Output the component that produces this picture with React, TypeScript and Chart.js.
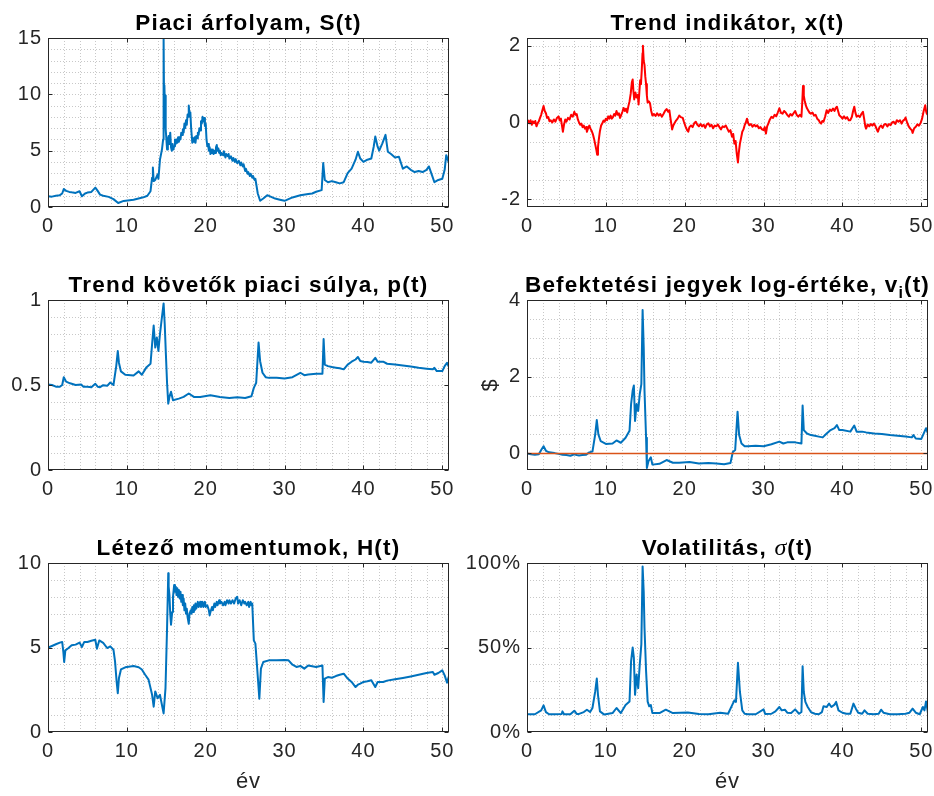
import React, { useEffect, useRef } from 'react';
import { Chart, registerables } from 'chart.js';

Chart.register(...registerables);

// ---------- shared axis data ----------
const X_TICKS = [0, 10, 20, 30, 40, 50];
const X_MAX = 50.85;

// ---------- S(t): market price ----------
const S_T = [0, 0.5, 1, 1.5, 1.8, 2, 2.3, 2.7, 3, 3.5, 4, 4.3, 4.7, 5, 5.5, 6, 6.3, 6.6, 7, 7.7, 8.3, 8.9, 9.6, 10.85, 12.1, 12.6, 13, 13.2, 13.3, 13.4, 13.6, 13.9, 14, 14.2, 14.45, 14.6, 14.66, 14.72, 14.76, 14.85, 14.9, 14.95,
  15.1, 15.2, 15.3, 15.4, 15.5, 15.6, 15.7, 15.8, 15.9, 16, 16.1, 16.2, 16.3, 16.4, 16.5, 16.6, 16.7, 16.8, 16.9, 17, 17.1, 17.2, 17.3, 17.4, 17.5, 17.6, 17.7, 17.8, 17.85, 17.95, 18.05, 18.15, 18.3, 18.4, 18.5, 18.6, 18.7, 18.8, 18.9, 19, 19.1, 19.2, 19.3, 19.4, 19.5, 19.6, 19.7, 19.8, 19.9, 20, 20.1, 20.2, 20.3, 20.4, 20.5, 20.6, 20.7, 20.8, 20.9, 21, 21.1, 21.2, 21.3, 21.4, 21.5, 21.6, 21.7, 21.8, 21.9, 22, 22.2, 22.3, 22.5, 22.6, 22.8, 22.9, 23, 23.2, 23.4, 23.5, 23.7, 23.8, 24, 24.2, 24.4, 24.5, 24.7, 24.8, 25, 25.1, 25.3, 25.4, 25.6, 25.7, 25.9, 26, 26.2, 26.3,
  26.6, 26.9, 27.3, 27.8, 28.3, 28.8, 29.4, 30, 30.5, 31, 32, 33, 33.5, 34, 34.7, 34.9, 35.1, 35.5, 36, 36.5, 37, 37.5, 38, 38.5, 39, 39.3, 39.6, 40, 40.5, 41, 41.3, 41.5, 41.8, 42, 42.4, 42.8, 43.1, 43.5, 44, 44.5, 45, 45.5, 46, 46.5, 47, 47.5, 48, 48.3, 48.7, 49, 49.5, 50, 50.3, 50.5, 50.7, 50.85];
const S_VALUES = [0.95, 0.92, 1.0, 1.05, 1.2, 1.6, 1.43, 1.34, 1.3, 1.25, 1.4, 0.95, 1.2, 1.28, 1.34, 1.72, 1.43, 1.1, 1.0, 0.9, 0.7, 0.36, 0.54, 0.65, 0.86, 1.0, 1.4, 2.6, 3.5, 2.3, 2.4, 2.9, 2.5, 4.2, 5.1, 6.0, 14.9, 9.0, 10.8, 8.0, 9.9, 6.9,
  5.1, 6.0, 6.3, 5.6, 6.6, 5.3, 5.0, 5.6, 5.1, 5.4, 6.0, 5.6, 6.0, 5.7, 6.2, 5.8, 6.2, 6.0, 6.6, 6.4, 6.9, 6.6, 7.4, 7.0, 7.7, 7.3, 8.2, 8.0, 9.0, 8.1, 8.4, 7.0, 5.7, 6.1, 5.8, 6.2, 5.7, 6.3, 6.1, 6.6, 6.4, 7.0, 6.8, 7.6, 7.4, 8.0, 7.6, 7.9, 7.2, 7.4, 6.0, 5.4, 5.6, 5.0, 5.3, 4.7, 5.1, 4.8, 5.1, 4.7, 5.0, 4.8, 5.3, 5.5, 5.0, 5.2, 4.8, 5.0, 4.6, 4.8, 4.6, 4.95, 4.4, 4.7, 4.5, 4.7, 4.3, 4.5, 4.1, 4.35, 4.0, 4.25, 3.9, 4.1, 3.7, 3.95, 3.6, 3.8, 3.2, 3.4, 2.95, 3.1, 2.75, 2.95, 2.6, 2.75, 2.4, 2.5,
  1.2, 0.55, 0.75, 1.05, 0.9, 0.75, 0.65, 0.55, 0.7, 0.85, 1.05, 1.15, 1.2, 1.35, 1.5, 3.9, 2.4, 2.2, 2.3, 2.2, 2.1, 2.2, 3.0, 3.4, 4.2, 4.9, 4.3, 4.0, 4.2, 4.3, 5.35, 6.25, 5.35, 5.0, 5.65, 6.4, 4.9, 4.7, 4.4, 4.46, 3.4, 3.6, 3.3, 3.1, 3.2, 3.1, 3.3, 3.6, 2.8, 2.2, 2.4, 2.5, 3.3, 4.6, 4.2, 3.9];
const S_TICKS = [0, 5, 10, 15];

// ---------- x(t): trend indicator ----------
const X_T = [0, 0.15, 0.3, 0.45, 0.6, 0.75, 0.9, 1.05, 1.2, 1.35, 1.5, 1.65, 1.8, 1.95, 2.1, 2.25, 2.4, 2.55, 2.7, 2.85, 3, 3.2, 3.4, 3.6, 3.8, 4, 4.15, 4.3, 4.45, 4.55, 4.7, 4.85, 5, 5.2, 5.4, 5.6, 5.8, 6, 6.15, 6.3, 6.45, 6.6, 6.75, 6.9, 7.05, 7.2, 7.35, 7.5, 7.6, 7.75, 7.9, 8.05, 8.2, 8.35, 8.5, 8.65, 8.8, 8.9, 9, 9.1, 9.25, 9.4, 9.55, 9.7, 9.85, 10, 10.15, 10.3, 10.45, 10.6, 10.75, 10.9, 11.05, 11.2, 11.35, 11.5, 11.65, 11.8, 11.95, 12.1, 12.25, 12.4, 12.55, 12.7, 12.85, 13, 13.15, 13.3, 13.4, 13.5, 13.6, 13.75, 13.9, 14.05, 14.15, 14.25, 14.35, 14.45, 14.55, 14.65, 14.7, 14.8, 14.9, 15, 15.1, 15.2, 15.3, 15.45, 15.6, 15.75, 15.9, 16.1, 16.3, 16.5, 16.7, 16.9, 17.1, 17.3, 17.5, 17.7, 17.9, 18.05, 18.2, 18.4, 18.55, 18.7, 18.9, 19.1, 19.3, 19.5, 19.75, 19.9, 20.1, 20.3, 20.45, 20.6, 20.8, 21, 21.2, 21.4, 21.6, 21.8, 22, 22.2, 22.4, 22.6, 22.8, 23, 23.2, 23.4, 23.6, 23.8, 24, 24.2, 24.4, 24.6, 24.8, 25, 25.2, 25.4, 25.6, 25.8, 26, 26.15, 26.3, 26.45, 26.6, 26.75, 26.85, 27, 27.15, 27.3, 27.45, 27.6, 27.75, 27.9, 28.05, 28.2, 28.4, 28.6, 28.8, 29, 29.2, 29.4, 29.6, 29.8, 30, 30.15, 30.3, 30.45, 30.6, 30.8, 31, 31.2, 31.4, 31.6, 31.8, 32, 32.2, 32.4, 32.6, 32.8, 33, 33.2, 33.4, 33.6, 33.8, 34, 34.2, 34.4, 34.6, 34.8, 34.9, 35, 35.1, 35.2, 35.35, 35.5, 35.7, 35.85, 36, 36.2, 36.4, 36.6, 36.8, 37, 37.15, 37.3, 37.45, 37.6, 37.8, 38, 38.2, 38.4, 38.6, 38.8, 39, 39.15, 39.3, 39.45, 39.6, 39.8, 40, 40.2, 40.4, 40.6, 40.8, 41, 41.2, 41.35, 41.5, 41.65, 41.8, 42, 42.2, 42.4, 42.6, 42.75, 42.9, 43, 43.2, 43.4, 43.6, 43.8, 44, 44.2, 44.4, 44.5, 44.7, 44.9, 45.1, 45.3, 45.5, 45.7, 45.9, 46.1, 46.3, 46.5, 46.7, 46.9, 47.1, 47.3, 47.5, 47.7, 47.9, 48, 48.2, 48.4, 48.6, 48.8, 48.9, 49.1, 49.3, 49.5, 49.7, 49.9, 50.1, 50.3, 50.5, 50.6, 50.7, 50.85];
const X_VALUES = [0, 0.05, -0.02, 0.06, -0.06, 0.03, -0.02, 0.04, -0.1, -0.02, 0.03, 0.12, 0.2, 0.32, 0.43, 0.3, 0.24, 0.12, 0.14, 0.03, 0.06, 0, 0.08, 0.02, 0.12, 0.16, 0.05, 0.1, -0.1, -0.24, -0.05, 0.08, 0.02, 0.12, 0.08, 0.2, 0.15, 0.28, 0.2, 0.22, 0.08, 0, -0.06, -0.03, -0.12, -0.08, -0.16, -0.12, -0.24, -0.15, -0.08, -0.16, -0.22, -0.3, -0.42, -0.57, -0.72, -0.84, -0.65, -0.45, -0.22, -0.08, -0.02, 0.05, 0.02, 0.1, 0.06, 0.16, 0.1, 0.18, 0.1, 0.14, 0.22, 0.18, 0.3, 0.2, 0.24, 0.12, 0.2, 0.28, 0.38, 0.3, 0.36, 0.26, 0.42, 0.55, 0.75, 1.05, 1.12, 0.8, 0.6, 0.78, 0.65, 0.72, 0.47, 0.8, 1.1, 1.0, 1.35, 1.8, 2.0, 1.6, 1.5, 1.2, 1.0, 0.7, 0.52, 0.55, 0.5, 0.3, 0.18, 0.22, 0.17, 0.24, 0.18, 0.22, 0.15, 0.22, 0.3, 0.35, 0.28, 0.32, 0.1, -0.18, -0.08, -0.02, 0.05, 0.1, 0.18, 0.14, 0.12, 0.02, -0.1, -0.2, -0.24, -0.12, -0.08, -0.12, -0.02, 0.02, -0.06, -0.1, -0.04, -0.1, -0.06, -0.14, -0.05, -0.02, -0.1, -0.06, -0.15, -0.08, -0.1, -0.05, -0.12, -0.18, -0.1, -0.12, -0.08, -0.16, -0.24, -0.2, -0.37, -0.3, -0.55, -0.48, -0.81, -1.04, -0.8, -0.55, -0.4, -0.24, -0.18, -0.07, 0, 0.1, -0.02, -0.07, -0.04, -0.11, -0.06, -0.1, -0.07, -0.15, -0.12, -0.18, -0.2, -0.12, -0.29, -0.1, -0.03, 0.08, 0.15, 0.12, 0.2, 0.16, 0.26, 0.37, 0.25, 0.23, 0.3, 0.26, 0.2, 0.15, 0.22, 0.18, 0.24, 0.3, 0.2, 0.15, 0.2, 0.15, 0.5, 0.95, 0.7, 0.58, 0.45, 0.37, 0.3, 0.25, 0.23, 0.26, 0.18, 0.2, 0.1, 0.06, 0, -0.03, 0.04, 0.02, 0.15, 0.32, 0.25, 0.34, 0.3, 0.36, 0.3, 0.38, 0.41, 0.3, 0.19, 0.15, 0.1, 0.16, 0.1, 0.14, 0.06, 0.06, 0.15, 0.3, 0.41, 0.25, 0.15, 0.18, 0.14, 0.22, 0.28, 0.1, -0.1, -0.16, -0.05, -0.1, -0.04, -0.08, -0.03, -0.1, -0.2, -0.24, -0.12, -0.08, -0.14, -0.05, -0.04, -0.1, -0.04, -0.07, 0, 0.02, -0.04, 0.06, 0.02, 0.06, -0.03, 0.05, 0.08, 0.13, 0, -0.1, -0.16, -0.2, -0.27, -0.15, -0.11, -0.05, -0.08, -0.02, 0.1, 0.3, 0.45, 0.3, 0.23, 0.19];
const X_IND_TICKS = [-2, 0, 2];

// ---------- p(t): weight of trend followers ----------
const P_T = [0, 0.5, 1, 1.5, 1.8, 2, 2.3, 2.8, 3.5, 4.2, 4.5, 5, 5.5, 6, 6.3, 6.6, 7, 7.5, 7.9, 8.3, 8.65, 8.85, 9, 9.25, 9.8, 10.85, 11.5, 11.9, 12.5, 13, 13.2, 13.4, 13.6, 13.8, 14, 14.2, 14.45, 14.66, 14.8, 14.95, 15.1, 15.25, 15.4, 15.6, 15.85, 16.6, 17.2, 17.85, 18.5, 19.3, 20.6, 21.8, 23, 24, 25, 25.8, 26.1, 26.4, 26.7, 26.9, 27.2, 27.6, 28, 29, 30, 31, 32, 32.5, 33, 34, 34.8, 34.95, 35.1, 35.5, 36, 36.5, 37, 37.5, 38, 38.5, 39, 39.3, 39.6, 40, 40.5, 41, 41.5, 41.8, 42.5, 43, 44, 45, 46, 47, 48, 48.8, 49, 49.3, 50, 50.3, 50.6, 50.85];
const P_VALUES = [0.503, 0.5, 0.49, 0.49, 0.5, 0.546, 0.52, 0.51, 0.5, 0.503, 0.49, 0.489, 0.487, 0.507, 0.49, 0.487, 0.499, 0.495, 0.515, 0.5, 0.61, 0.7, 0.63, 0.58, 0.56, 0.556, 0.58, 0.56, 0.605, 0.625, 0.74, 0.85, 0.72, 0.78, 0.7, 0.8, 0.9, 0.98, 0.86, 0.68, 0.51, 0.39, 0.43, 0.46, 0.41, 0.42, 0.43, 0.45, 0.43, 0.43, 0.44, 0.43, 0.424, 0.428, 0.424, 0.434, 0.483, 0.513, 0.75, 0.64, 0.572, 0.546, 0.542, 0.542, 0.538, 0.546, 0.572, 0.558, 0.562, 0.566, 0.566, 0.77, 0.62, 0.611, 0.606, 0.602, 0.598, 0.592, 0.62, 0.637, 0.65, 0.665, 0.641, 0.637, 0.635, 0.631, 0.66, 0.637, 0.637, 0.625, 0.621, 0.615, 0.609, 0.601, 0.596, 0.592, 0.601, 0.582, 0.582, 0.611, 0.631, 0.606];
const P_TICKS = [0, 0.5, 1];

// ---------- v_i(t): log value of fund units ----------
const V_T = [0, 0.5, 1, 1.5, 1.8, 2.1, 2.4, 2.8, 3.5, 4, 4.5, 5, 5.5, 6, 6.3, 6.6, 7, 7.5, 7.9, 8.3, 8.65, 8.85, 9.05, 9.35, 10, 10.85, 11.35, 11.9, 12.5, 13, 13.2, 13.4, 13.55, 13.7, 13.9, 14.1, 14.3, 14.5, 14.66, 14.8, 14.9, 15.1, 15.2, 15.4, 15.7, 15.9, 16.8, 17.7, 18.5, 19.3, 20.6, 21.8, 23, 24, 25, 25.8, 26.1, 26.4, 26.7, 26.9, 27.2, 27.6, 28, 29, 30, 31, 32, 32.5, 33, 34, 34.8, 34.95, 35.1, 35.5, 36, 36.5, 37, 37.5, 38, 38.5, 39, 39.3, 39.6, 40, 41, 41.5, 41.8, 42.5, 43, 44, 45, 46, 47, 48, 48.8, 49, 49.3, 50, 50.3, 50.6, 50.85];
const V_VALUES = [0, -0.02, -0.03, -0.02, 0.09, 0.19, 0.07, 0.03, 0.01, -0.01, -0.03, -0.04, -0.06, -0.02, -0.04, -0.05, -0.04, -0.03, 0.03, 0.05, 0.5, 0.87, 0.5, 0.32, 0.25, 0.26, 0.34, 0.28, 0.41, 0.59, 1.29, 1.64, 1.77, 0.85, 1.29, 1.11, 1.55, 1.81, 3.74, 2.77, 1.64, 0.41, -0.38, -0.2, -0.1, -0.29, -0.27, -0.17, -0.24, -0.24, -0.22, -0.26, -0.25, -0.26, -0.28, -0.25, 0.04, 0.09, 1.09, 0.48, 0.26, 0.19, 0.19, 0.2, 0.19, 0.24, 0.31, 0.26, 0.29, 0.29, 0.26, 1.25, 0.61, 0.52, 0.48, 0.46, 0.44, 0.42, 0.52, 0.61, 0.66, 0.74, 0.61, 0.61, 0.57, 0.73, 0.57, 0.57, 0.55, 0.52, 0.51, 0.48, 0.46, 0.44, 0.42, 0.48, 0.39, 0.38, 0.52, 0.66, 0.52];
const V_ZERO_T = [0, X_MAX];
const V_ZERO_VALUES = [0, 0];
const V_TICKS = [0, 2, 4];

// ---------- H(t): existing momentums ----------
const H_T = [0, 0.5, 1, 1.5, 1.8, 1.95, 2.05, 2.2, 2.6, 3, 3.5, 4, 4.3, 4.6, 5, 5.5, 6, 6.2, 6.5, 7, 7.5, 7.9, 8.3, 8.5, 8.7, 8.85, 9, 9.25, 9.8, 10.85, 11.5, 11.9, 12.3, 12.75, 13.2, 13.4, 13.6, 13.9, 14.2, 14.45, 14.66, 14.9,
  15.1, 15.25, 15.3, 15.4, 15.5, 15.6, 15.75, 15.85, 16, 16.1, 16.2, 16.3, 16.4, 16.5, 16.6, 16.7, 16.8, 16.9, 17, 17.1, 17.2, 17.3, 17.4, 17.5, 17.6, 17.7, 17.85, 17.95, 18.1, 18.2, 18.3, 18.4, 18.5, 18.6, 18.7, 18.8, 19, 19.1, 19.3, 19.4, 19.6, 19.7, 19.9, 20, 20.2, 20.4, 20.5, 20.6, 20.8, 20.9, 21.1, 21.2, 21.4, 21.5, 21.7, 21.8, 22, 22.2, 22.4, 22.5, 22.7, 22.9, 23, 23.2, 23.4, 23.6, 23.8, 24, 24.1, 24.3, 24.5, 24.7, 24.9, 25, 25.2, 25.4, 25.5, 25.7, 25.8, 25.9,
  26.1, 26.3, 26.5, 26.8, 27, 27.3, 28, 29, 30, 30.5, 31, 31.5, 32, 32.5, 33, 34, 34.8, 34.95, 35.1, 35.5, 36, 36.5, 37, 37.5, 38, 38.5, 39, 39.3, 39.6, 40, 40.5, 41, 41.5, 41.8, 42.5, 43, 44, 45, 46, 47, 48, 48.8, 49, 49.5, 50, 50.3, 50.6, 50.85];
const H_VALUES = [4.99, 5.09, 5.19, 5.29, 5.33, 4.73, 4.14, 4.83, 4.97, 5.13, 5.17, 5.29, 5.03, 5.33, 5.33, 5.4, 5.46, 4.93, 5.42, 5.27, 4.97, 5.07, 4.87, 4.18, 3.0, 2.3, 3.2, 3.7, 3.83, 3.9, 3.83, 3.7, 3.4, 3.1, 2.2, 1.5, 2.4, 2.0, 2.2, 1.6, 1.1, 2.6,
  6.2, 9.4, 8.6, 8.1, 7.0, 6.35, 7.1, 8.0, 8.7, 8.3, 8.6, 8.1, 8.5, 8.0, 8.4, 7.9, 8.3, 7.7, 8.1, 7.5, 7.9, 7.2, 7.6, 7.0, 7.3, 6.8, 6.4, 7.0, 7.2, 7.0, 7.4, 7.1, 7.5, 7.2, 7.6, 7.3, 7.7, 7.4, 7.7, 7.4, 7.7, 7.4, 7.7, 7.4, 7.5, 7.2, 6.9, 7.1, 7.4, 7.2, 7.6, 7.4, 7.7, 7.5, 7.8, 7.6, 7.7, 7.5, 7.7, 7.5, 7.8, 7.6, 7.8, 7.6, 7.8, 7.6, 7.9, 8.0, 7.6, 7.8, 7.5, 7.8, 7.6, 7.7, 7.5, 7.7, 7.4, 7.7, 7.5, 7.6,
  5.42, 5.23, 3.94, 1.97, 3.75, 4.14, 4.24, 4.24, 4.26, 4.24, 3.98, 3.85, 3.91, 3.75, 3.94, 3.85, 3.94, 1.78, 3.16, 3.25, 3.21, 3.31, 3.39, 3.45, 3.16, 2.96, 2.66, 2.8, 2.86, 2.96, 3.0, 3.06, 2.66, 2.96, 2.96, 3.04, 3.12, 3.2, 3.29, 3.39, 3.49, 3.55, 3.39, 3.49, 3.65, 3.35, 2.92, 3.31];
const H_TICKS = [0, 5, 10];

// ---------- sigma(t): volatility, in % ----------
const SIG_T = [0, 1, 1.8, 2.1, 2.4, 2.8, 3.5, 4.4, 4.5, 4.7, 5.5, 6, 6.3, 6.6, 7.2, 7.6, 8, 8.3, 8.65, 8.85, 9, 9.25, 9.8, 10.85, 11.35, 11.9, 12.5, 13, 13.2, 13.4, 13.55, 13.7, 13.9, 14.1, 14.3, 14.5, 14.66, 14.8, 14.9, 15.1, 15.3, 15.5, 15.7, 15.9, 16.8, 17.6, 18.5, 20.4, 21.8, 23, 24.5, 25.5, 26, 26.3, 26.5, 26.75, 27, 27.3, 27.6, 28, 29, 30, 30.2, 31, 31.5, 32, 32.3, 32.7, 33, 33.5, 34, 34.5, 34.8, 34.95, 35.1, 35.3, 35.6, 36, 36.5, 37, 37.4, 37.6, 38, 38.3, 38.6, 39, 39.2, 39.5, 40, 40.5, 41, 41.4, 41.7, 42, 42.5, 42.8, 43.2, 44, 44.6, 44.9, 45.2, 46, 47, 48, 48.5, 48.9, 49.3, 49.8, 50.2, 50.4, 50.6, 50.8, 50.85];
const SIG_VALUES = [10.5, 10.5, 12.8, 15.8, 11.8, 10.5, 10.5, 10.6, 12.2, 10.5, 10.5, 12.6, 10.7, 10.7, 11.8, 13.2, 11.8, 14.2, 24, 31.6, 22, 12.2, 10.3, 11.2, 14.2, 11.2, 16, 18, 42, 50, 44, 22, 34, 26, 40, 52, 98, 83, 61.5, 36, 18, 15.2, 16, 11.2, 11.2, 13.2, 11.2, 11.5, 10.7, 10.5, 11.4, 10.8, 15.8, 18.7, 17.8, 41, 23.7, 12.8, 10.8, 10.5, 10.5, 13.4, 10.7, 10.8, 12.2, 14.8, 12.8, 13.2, 11.4, 11.2, 13.4, 10.8, 11.8, 38.9, 23.7, 17.8, 14.8, 11.8, 10.8, 10.5, 11.8, 15.2, 14.8, 16.8, 14.8, 16.2, 17.8, 12.8, 11.4, 10.8, 10.8, 16.8, 13.8, 11.4, 10.8, 12.8, 10.8, 10.5, 10.8, 13.2, 11.4, 10.5, 10.5, 10.8, 11.4, 13.8, 11.4, 10.5, 14.8, 12.8, 18.1, 12.8, 10.8];
const SIG_TICKS = [0, 50, 100];

// ---------- styling ----------
const BLUE = '#0072BD';
const RED = '#FF0000';
const ORANGE = '#D95319';
const AXIS = '#262626';
const GRID = '#c8c8c8';
const TICK_FONT = { family: '"Liberation Sans", Arial, sans-serif', size: 20 };
const TITLE_FONT = 'bold 22.5px "Liberation Sans", Arial, sans-serif';
const TITLE_SPACING = '1.2px';

type TitlePart = { text: string; font?: string; dy?: number; spacing?: string };

const toXY = (t: number[], v: number[]) => t.map((x, i) => ({ x, y: v[i] }));

const axesPlugin = {
  id: 'matlabAxes',
  beforeDatasetsDraw(chart: any, _args: any, opts: any) {
    const { ctx, chartArea: a, scales } = chart;
    const xs = scales.x, ys = scales.y;
    ctx.save();
    ctx.strokeStyle = GRID;
    ctx.lineWidth = 1;
    ctx.setLineDash([1, 2]);
    const k0 = Math.ceil(xs.min / opts.xMinor - 1e-9), k1 = Math.floor(xs.max / opts.xMinor + 1e-9);
    for (let k = k0; k <= k1; k++) {
      const px = Math.round(xs.getPixelForValue(k * opts.xMinor)) + 0.5;
      if (px <= a.left + 1 || px >= a.right - 1) continue;
      ctx.beginPath(); ctx.moveTo(px, a.top); ctx.lineTo(px, a.bottom); ctx.stroke();
    }
    const j0 = Math.ceil(ys.min / opts.yMinor - 1e-9), j1 = Math.floor(ys.max / opts.yMinor + 1e-9);
    for (let j = j0; j <= j1; j++) {
      const py = Math.round(ys.getPixelForValue(j * opts.yMinor)) + 0.5;
      if (py <= a.top + 1 || py >= a.bottom - 1) continue;
      ctx.beginPath(); ctx.moveTo(a.left, py); ctx.lineTo(a.right, py); ctx.stroke();
    }
    ctx.restore();
  },
  afterDatasetsDraw(chart: any) {
    const { ctx, chartArea: a, scales } = chart;
    const xs = scales.x, ys = scales.y;
    ctx.save();
    ctx.strokeStyle = AXIS;
    ctx.lineWidth = 1;
    ctx.setLineDash([]);
    const L = Math.round(a.left) + 0.5, R = Math.round(a.right) - 0.5;
    const T = Math.round(a.top) + 0.5, B = Math.round(a.bottom) - 0.5;
    ctx.strokeRect(L, T, R - L, B - T);
    const len = 4;
    ctx.beginPath();
    xs.ticks.forEach((tk: any) => {
      const px = Math.round(xs.getPixelForValue(tk.value)) + 0.5;
      ctx.moveTo(px, B); ctx.lineTo(px, B - len);
      ctx.moveTo(px, T); ctx.lineTo(px, T + len);
    });
    ys.ticks.forEach((tk: any) => {
      const py = Math.round(ys.getPixelForValue(tk.value)) + 0.5;
      ctx.moveTo(L, py); ctx.lineTo(L + len, py);
      ctx.moveTo(R, py); ctx.lineTo(R - len, py);
    });
    ctx.stroke();
    ctx.restore();
  },
};

const titlePlugin = {
  id: 'matlabTitle',
  afterDraw(chart: any, _args: any, opts: any) {
    const parts: TitlePart[] = opts.parts || [];
    const { ctx, chartArea: a } = chart;
    ctx.save();
    ctx.textBaseline = 'alphabetic';
    ctx.textAlign = 'left';
    ctx.fillStyle = '#000';
    const widths = parts.map((p) => {
      ctx.font = p.font || TITLE_FONT;
      (ctx as any).letterSpacing = p.spacing || TITLE_SPACING;
      return ctx.measureText(p.text).width;
    });
    const total = widths.reduce((s, w) => s + w, 0);
    let x = (a.left + a.right) / 2 - total / 2;
    const base = a.top - 8.5;
    parts.forEach((p, i) => {
      ctx.font = p.font || TITLE_FONT;
      (ctx as any).letterSpacing = p.spacing || TITLE_SPACING;
      ctx.fillText(p.text, x, base + (p.dy || 0));
      x += widths[i];
    });
    (ctx as any).letterSpacing = '0px';
    ctx.restore();
  },
};

const spacingPlugin = {
  id: 'tickSpacing',
  beforeDraw(chart: any) { (chart.ctx as any).letterSpacing = '1px'; },
  afterDraw(chart: any) { (chart.ctx as any).letterSpacing = '0px'; },
};

type PanelCfg = {
  left: number; top: number; padL: number; padR: number; padT: number; padB: number;
  plotW: number; plotH: number;
  title: TitlePart[];
  series: { t: number[]; v: number[]; color: string; width?: number }[];
  yMin: number; yMax: number; yTicks: number[]; yMinor: number;
  yFmt: (v: number) => string;
  yTitle?: string; xTitle?: string;
};

function Panel({ cfg }: { cfg: PanelCfg }) {
  const ref = useRef<HTMLCanvasElement>(null);
  const w = cfg.padL + cfg.plotW + cfg.padR;
  const h = cfg.padT + cfg.plotH + cfg.padB;
  useEffect(() => {
    const chart = new Chart(ref.current as HTMLCanvasElement, {
      type: 'line',
      data: {
        datasets: cfg.series.map((s) => ({
          data: toXY(s.t, s.v),
          borderColor: s.color,
          borderWidth: s.width ?? 2,
          pointRadius: 0,
          fill: false,
          tension: 0,
          borderJoinStyle: 'round',
        })),
      },
      options: {
        responsive: false,
        animation: false,
        devicePixelRatio: 1,
        layout: { padding: { left: 0, top: cfg.padT, right: cfg.padR, bottom: 0 } },
        plugins: {
          legend: { display: false },
          tooltip: { enabled: false },
          title: { display: false },
          matlabAxes: { xMinor: 2, yMinor: cfg.yMinor },
          matlabTitle: { parts: cfg.title },
        } as any,
        scales: {
          x: {
            type: 'linear',
            min: 0,
            max: X_MAX,
            grid: { display: false, drawTicks: false },
            border: { display: false },
            ticks: { font: TICK_FONT, color: AXIS, padding: 7, maxRotation: 0, callback: (v: any) => String(v) },
            afterBuildTicks: (s: any) => { s.ticks = X_TICKS.map((value) => ({ value })); },
            afterFit: (s: any) => { s.height = cfg.padB; s.paddingLeft = 0; s.paddingRight = 0; },
            title: cfg.xTitle
              ? { display: true, text: cfg.xTitle, color: AXIS, font: { family: TICK_FONT.family, size: 22 }, padding: { top: 0, bottom: 1 } }
              : { display: false },
          },
          y: {
            type: 'linear',
            min: cfg.yMin,
            max: cfg.yMax,
            grid: { display: false, drawTicks: false },
            border: { display: false },
            ticks: { font: TICK_FONT, color: AXIS, padding: 6, callback: (v: any) => cfg.yFmt(Number(v)) },
            afterBuildTicks: (s: any) => { s.ticks = cfg.yTicks.map((value) => ({ value })); },
            afterFit: (s: any) => { s.width = cfg.padL; s.paddingTop = 0; s.paddingBottom = 0; },
            title: cfg.yTitle
              ? { display: true, text: cfg.yTitle, color: AXIS, font: { family: TICK_FONT.family, size: 22 }, padding: { top: 11, bottom: 0 } }
              : { display: false },
          },
        } as any,
      },
      plugins: [axesPlugin, titlePlugin, spacingPlugin],
    } as any);
    return () => chart.destroy();
  }, []);
  return (
    <canvas
      ref={ref}
      width={w}
      height={h}
      style={{ position: 'absolute', left: cfg.left, top: cfg.top, width: w, height: h }}
    />
  );
}

const plain = (v: number) => String(v);

const PANELS: PanelCfg[] = [
  {
    left: 0, top: 0, padL: 48, padR: 18, padT: 38, padB: 40, plotW: 401, plotH: 169,
    title: [{ text: 'Piaci árfolyam, S(t)' }],
    series: [{ t: S_T, v: S_VALUES, color: BLUE }],
    yMin: 0, yMax: 15, yTicks: S_TICKS, yMinor: 1, yFmt: plain,
  },
  {
    left: 467, top: 0, padL: 60, padR: 6, padT: 38, padB: 40, plotW: 401, plotH: 169,
    title: [{ text: 'Trend indikátor, x(t)' }],
    series: [{ t: X_T, v: X_VALUES, color: RED }],
    yMin: -2.2, yMax: 2.2, yTicks: X_IND_TICKS, yMinor: 0.5, yFmt: plain,
  },
  {
    left: 0, top: 250, padL: 48, padR: 18, padT: 50, padB: 40, plotW: 401, plotH: 170,
    title: [{ text: 'Trend követők piaci súlya, p(t)' }],
    series: [{ t: P_T, v: P_VALUES, color: BLUE }],
    yMin: 0, yMax: 1, yTicks: P_TICKS, yMinor: 0.1, yFmt: plain,
  },
  {
    left: 467, top: 250, padL: 60, padR: 6, padT: 50, padB: 40, plotW: 401, plotH: 170,
    title: [
      { text: 'Befektetési jegyek log-értéke, v' },
      { text: 'i', font: 'bold 16px "Liberation Sans", Arial, sans-serif', dy: 6, spacing: '1px' },
      { text: '(t)' },
    ],
    series: [
      { t: V_ZERO_T, v: V_ZERO_VALUES, color: ORANGE, width: 1.5 },
      { t: V_T, v: V_VALUES, color: BLUE },
    ],
    yMin: -0.43, yMax: 4, yTicks: V_TICKS, yMinor: 0.5, yFmt: plain, yTitle: '$',
  },
  {
    left: 0, top: 513, padL: 48, padR: 18, padT: 50, padB: 64, plotW: 401, plotH: 169,
    title: [{ text: 'Létező momentumok, H(t)' }],
    series: [{ t: H_T, v: H_VALUES, color: BLUE }],
    yMin: 0, yMax: 10, yTicks: H_TICKS, yMinor: 1, yFmt: plain, xTitle: 'év',
  },
  {
    left: 467, top: 513, padL: 60, padR: 6, padT: 50, padB: 64, plotW: 401, plotH: 169,
    title: [
      { text: 'Volatilitás, ' },
      { text: 'σ', font: 'italic 24px "Liberation Serif", "DejaVu Serif", serif', spacing: '1px' },
      { text: '(t)' },
    ],
    series: [{ t: SIG_T, v: SIG_VALUES, color: BLUE }],
    yMin: 0, yMax: 100, yTicks: SIG_TICKS, yMinor: 10, yFmt: (v) => `${v}%`, xTitle: 'év',
  },
];

export default function App() {
  return (
    <div style={{ position: 'fixed', left: 0, top: 0, width: 934, height: 796, background: '#fff', overflow: 'hidden' }}>
      {PANELS.map((cfg, i) => (
        <Panel key={i} cfg={cfg} />
      ))}
    </div>
  );
}
